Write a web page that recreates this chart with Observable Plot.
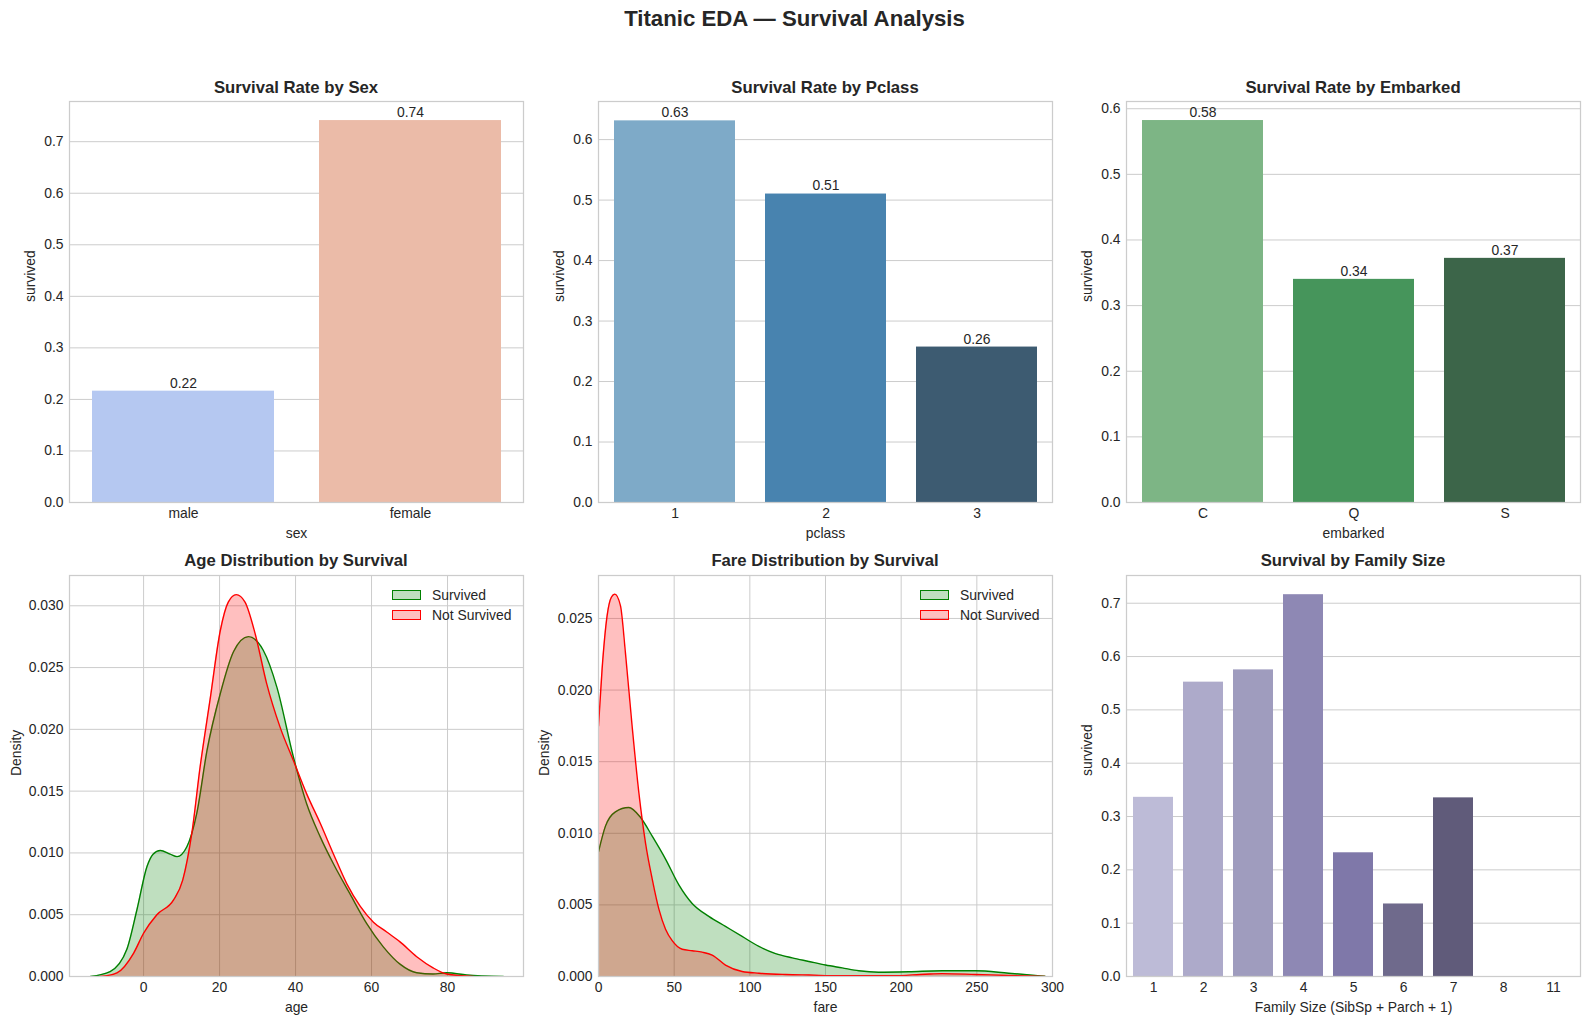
<!DOCTYPE html>
<html>
<head>
<meta charset="utf-8">
<script src="https://cdn.jsdelivr.net/npm/d3@7"></script>
<script src="https://cdn.jsdelivr.net/npm/@observablehq/plot@0.6"></script>
<style>
  html, body { margin: 0; padding: 0; background: #fff; }
  body { width: 1589px; height: 1025px; overflow: hidden; position: relative;
         font-family: "Liberation Sans", Arial, sans-serif; color: #262626; }
  .ttl { position: absolute; font-weight: bold; white-space: nowrap; transform: translate(-50%, -50%); }
  .panel { position: absolute; }
  .panel svg { display: block; overflow: visible; max-width: none; }
  .leg { position: absolute; font-size: 13.9px; white-space: nowrap; transform: translateY(-50%); }
  .patch { position: absolute; width: 29px; height: 10px; box-sizing: border-box; transform: translateY(-50%); }
</style>
</head>
<body>
<div id="root"></div>
<script>
// ---------------- DATA ----------------
const sexCats = ["male", "female"];
const sexRates = [0.216, 0.741];

const pclassCats = ["1", "2", "3"];
const pclassRates = [0.631, 0.510, 0.257];

const embarkedCats = ["C", "Q", "S"];
const embarkedRates = [0.582, 0.340, 0.372];

const familyCats = ["1", "2", "3", "4", "5", "6", "7", "8", "11"];
const familyRates = [0.336, 0.552, 0.575, 0.716, 0.232, 0.136, 0.335, 0, 0];

// KDE curves: [value, density]
const ageSurvived = [
  [-14, 0], [-8.8, 0.0004], [-4.4, 0.0022], [-1.75, 0.0054], [0.9, 0.0089], [2.5, 0.0099],
  [4.4, 0.0102], [7, 0.0099], [8.8, 0.0097], [11.4, 0.0105], [14, 0.0132], [16.7, 0.0183],
  [20.2, 0.0229], [23.7, 0.0263], [27.6, 0.0275], [31.5, 0.0264], [35.1, 0.0234],
  [39.4, 0.0178], [42.9, 0.0140], [46.5, 0.0113], [50, 0.0091], [54.3, 0.0067],
  [58.7, 0.0043], [63.1, 0.0024], [67.5, 0.0010], [71.9, 0.0003], [76.2, 0.0002],
  [79.8, 0.0003], [85, 0.00013], [94.7, 0]
];
const ageNotSurvived = [
  [-11.4, 0], [-7, 0.0003], [-2.6, 0.0019], [0, 0.0035], [3.5, 0.0050], [7.9, 0.0062],
  [10.3, 0.0078], [12.7, 0.0116], [14.9, 0.0170], [17.5, 0.0224], [20.2, 0.0280],
  [22.3, 0.0303], [24.4, 0.0309], [26.7, 0.0303], [29.4, 0.0277], [32.4, 0.0237],
  [35.9, 0.0202], [39.4, 0.0175], [42.9, 0.0148], [46.5, 0.0124], [50, 0.0099],
  [53.5, 0.0075], [57, 0.0057], [60.5, 0.0044], [64, 0.0036], [67.5, 0.0028],
  [71.9, 0.0016], [76.2, 0.0007], [79.8, 0.0002], [86.8, 0]
];
const fareSurvived = [
  [0, 0.0087], [4.6, 0.0105], [11.2, 0.0115], [20, 0.0118], [27.8, 0.0111], [35.5, 0.0098],
  [44.3, 0.0082], [53.1, 0.0064], [61.9, 0.0051], [72.9, 0.0042], [83.9, 0.0035],
  [94.9, 0.0028], [106, 0.0021], [117, 0.0016], [128, 0.0013], [139, 0.00105],
  [150, 0.0008], [161, 0.0006], [172, 0.0004], [185, 0.0003], [205, 0.00033],
  [227, 0.0004], [249, 0.0004], [271, 0.00023], [295, 0.00002]
];
const fareNotSurvived = [
  [0, 0.0175], [2.4, 0.0215], [5.7, 0.0252], [8.6, 0.0265], [10.8, 0.0267], [14.5, 0.0259],
  [17.8, 0.0226], [22.2, 0.0175], [26.7, 0.0128], [31.1, 0.0093], [35.5, 0.0068],
  [39.9, 0.0047], [44.3, 0.0033], [48.7, 0.0025], [55.3, 0.0019], [61.9, 0.0018],
  [68.5, 0.0017], [75.1, 0.0015], [83.9, 0.0008], [94.9, 0.00035], [106, 0.00023],
  [123.6, 0.00014], [139, 0.0001], [161, 0.00005], [194, 0.00005], [216, 0.00016],
  [227, 0.0002], [249, 0.00014], [271, 0.00007], [295, 0]
];

const rateTicks = [0, 0.1, 0.2, 0.3, 0.4, 0.5, 0.6, 0.7];
const densityTicks = [0, 0.005, 0.01, 0.015, 0.02, 0.025, 0.03];
const ageTicks = [0, 20, 40, 60, 80];
const fareTicks = [0, 50, 100, 150, 200, 250, 300];

// ---------------- STYLE ----------------
const sexColors = ["#b5c8f1", "#ebbba8"];
const pclassColors = ["#7eaac8", "#4883af", "#3d5b71"];
const embarkedColors = ["#7db585", "#46955b", "#3c6549"];
const familyColors = ["#bdbbd7", "#adaaca", "#9f9cbe", "#8e88b4", "#7f78a9", "#6f6a8c", "#605b7a", "#56506b", "#4b4660"];
const GREEN = "#008000", RED = "#ff0000";
const GRID = "#cccccc", EDGE = "#cccccc";
const FONT = '"Liberation Sans", Arial, sans-serif';
const fmt1 = d3.format(".1f"), fmt2 = d3.format(".2f"), fmt3 = d3.format(".3f");

const root = document.getElementById("root");
function place(el, left, top) {
  const d = document.createElement("div");
  d.className = "panel";
  d.style.left = left + "px";
  d.style.top = top + "px";
  d.appendChild(el);
  root.appendChild(d);
}
function title(text, cx, cy, size) {
  const d = document.createElement("div");
  d.className = "ttl";
  d.style.left = cx + "px";
  d.style.top = cy + "px";
  d.style.fontSize = size + "px";
  d.textContent = text;
  root.appendChild(d);
}
function legend(px, cy, entries) {
  entries.forEach((e, i) => {
    const y = cy + i * 20.6;
    const p = document.createElement("div");
    p.className = "patch";
    p.style.left = px + "px";
    p.style.top = y + "px";
    p.style.background = e.fill;
    p.style.border = "1.3px solid " + e.stroke;
    root.appendChild(p);
    const t = document.createElement("div");
    t.className = "leg";
    t.style.left = (px + 40) + "px";
    t.style.top = y + "px";
    t.textContent = e.label;
    root.appendChild(t);
  });
}

const baseStyle = {fontFamily: FONT, fontSize: "13.9px", color: "#262626", background: "transparent", overflow: "visible"};
const H = 451, MT = 5, MB = 45;

function barPanel({cats, vals, colors, xLabel, yMax, labels, width, marginLeft, marginRight}) {
  const data = cats.map((c, i) => ({c, v: vals[i]}));
  const ticks = rateTicks.filter(t => t <= yMax);
  return Plot.plot({
    width, height: H, marginLeft, marginRight, marginTop: MT, marginBottom: MB,
    style: baseStyle,
    x: {type: "band", domain: cats, paddingInner: 0.2, paddingOuter: 0.1, label: null},
    y: {domain: [0, yMax], label: null},
    color: {domain: cats, range: colors},
    marks: [
      Plot.gridY(ticks, {stroke: GRID, strokeOpacity: 1, strokeWidth: 1}),
      Plot.barY(data.filter(d => d.v > 0), {x: "c", y: "v", fill: "c"}),
      labels ? Plot.text(data, {x: "c", y: "v", text: d => fmt2(d.v), dy: -8}) : null,
      Plot.axisX({tickSize: 0, tickPadding: 6, label: null}),
      Plot.axisY(ticks, {tickSize: 0, tickPadding: 6, tickFormat: fmt1, label: null}),
      Plot.text([xLabel], {frameAnchor: "bottom", dy: 35, text: d => d}),
      Plot.text(["survived"], {frameAnchor: "left", dx: -39, rotate: -90, text: d => d}),
      Plot.frame({stroke: EDGE, strokeWidth: 1.25})
    ]
  });
}

function kdePanel({surv, notSurv, xDomain, xTicks, yMax, xLabel, width, marginLeft, marginRight, ylabelDx}) {
  const ticks = densityTicks.filter(t => t <= yMax);
  const X = d => d[0], Y = d => d[1];
  return Plot.plot({
    width, height: H, marginLeft, marginRight, marginTop: MT, marginBottom: MB,
    style: baseStyle,
    x: {domain: xDomain, label: null},
    y: {domain: [0, yMax], label: null},
    marks: [
      Plot.gridX(xTicks, {stroke: GRID, strokeOpacity: 1, strokeWidth: 1}),
      Plot.gridY(ticks, {stroke: GRID, strokeOpacity: 1, strokeWidth: 1}),
      Plot.areaY(surv, {x: X, y: Y, fill: GREEN, fillOpacity: 0.25, curve: "monotone-x", clip: true}),
      Plot.lineY(surv, {x: X, y: Y, stroke: GREEN, strokeWidth: 1.4, curve: "monotone-x", clip: true}),
      Plot.areaY(notSurv, {x: X, y: Y, fill: RED, fillOpacity: 0.25, curve: "monotone-x", clip: true}),
      Plot.lineY(notSurv, {x: X, y: Y, stroke: RED, strokeWidth: 1.4, curve: "monotone-x", clip: true}),
      Plot.axisX(xTicks, {tickSize: 0, tickPadding: 6, label: null}),
      Plot.axisY(ticks, {tickSize: 0, tickPadding: 6, tickFormat: fmt3, label: null}),
      Plot.text([xLabel], {frameAnchor: "bottom", dy: 35, text: d => d}),
      Plot.text(["Density"], {frameAnchor: "left", dx: ylabelDx, rotate: -90, text: d => d}),
      Plot.frame({stroke: EDGE, strokeWidth: 1.25})
    ]
  });
}

// ---------------- LAYOUT ----------------
title("Titanic EDA \u2014 Survival Analysis", 794.5, 18.5, 22.2);

const TOP1 = 96, TOP2 = 570;

place(barPanel({cats: sexCats, vals: sexRates, colors: sexColors, xLabel: "sex", yMax: 0.778,
  labels: true, width: 535, marginLeft: 69, marginRight: 12}), 0, TOP1);
place(barPanel({cats: pclassCats, vals: pclassRates, colors: pclassColors, xLabel: "pclass", yMax: 0.663,
  labels: true, width: 532, marginLeft: 68, marginRight: 10}), 530, TOP1);
place(barPanel({cats: embarkedCats, vals: embarkedRates, colors: embarkedColors, xLabel: "embarked", yMax: 0.611,
  labels: true, width: 529, marginLeft: 66, marginRight: 9}), 1060, TOP1);

place(kdePanel({surv: ageSurvived, notSurv: ageNotSurvived, xDomain: [-19.5, 100], xTicks: ageTicks,
  yMax: 0.03245, xLabel: "age", width: 535, marginLeft: 69, marginRight: 12, ylabelDx: -53}), 0, TOP2);
place(kdePanel({surv: fareSurvived, notSurv: fareNotSurvived, xDomain: [0, 300], xTicks: fareTicks,
  yMax: 0.0280, xLabel: "fare", width: 532, marginLeft: 68, marginRight: 10, ylabelDx: -54}), 530, TOP2);
place(barPanel({cats: familyCats, vals: familyRates, colors: familyColors, xLabel: "Family Size (SibSp + Parch + 1)",
  yMax: 0.752, labels: false, width: 529, marginLeft: 66, marginRight: 9}), 1060, TOP2);

title("Survival Rate by Sex", 296, 87.5, 16.7);
title("Survival Rate by Pclass", 825, 87.5, 16.7);
title("Survival Rate by Embarked", 1353, 87.5, 16.7);
title("Age Distribution by Survival", 296, 561, 16.7);
title("Fare Distribution by Survival", 825, 561, 16.7);
title("Survival by Family Size", 1353, 561, 16.7);

const legEntries = [
  {label: "Survived", fill: "rgba(0,128,0,0.25)", stroke: GREEN},
  {label: "Not Survived", fill: "rgba(255,0,0,0.25)", stroke: RED}
];
legend(392, 594.7, legEntries);
legend(920, 594.7, legEntries);
</script>
</body>
</html>
